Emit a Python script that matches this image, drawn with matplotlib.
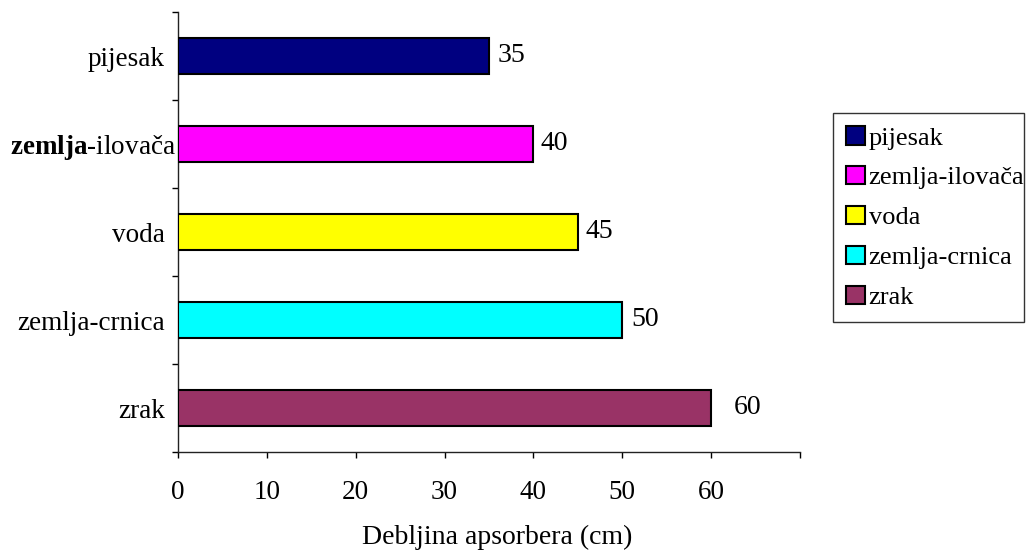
import matplotlib
matplotlib.use("Agg")
import matplotlib.pyplot as plt
import matplotlib.transforms as mtransforms
import numpy as np

# ---- data ----
categories = ["pijesak", "zemlja-ilovača", "voda", "zemlja-crnica", "zrak"]
tick_labels = ["pijesak", r"$\mathbf{zemlja}$-ilovača", "voda", "zemlja-crnica", "zrak"]
values = [35, 40, 45, 50, 60]
colors = ["#000080", "#FF00FF", "#FFFF00", "#00FFFF", "#993366"]
x_ticks = [0, 10, 20, 30, 40, 50, 60, 70]
x_tick_labels = ["0", "10", "20", "30", "40", "50", "60", ""]
x_label = "Debljina apsorbera (cm)"

# label offsets in pixels (style)
label_offsets = [9, 7, 8, 9, 23]

plt.rcParams["font.family"] = ["Liberation Serif", "DejaVu Serif"]
plt.rcParams["mathtext.fontset"] = "custom"
plt.rcParams["mathtext.rm"] = "Liberation Serif"
plt.rcParams["mathtext.bf"] = "Liberation Serif:bold"
plt.rcParams["mathtext.it"] = "Liberation Serif:italic"

fig = plt.figure(figsize=(10.31, 5.5), dpi=100)
ax = fig.add_axes([178/1031, 1-452/550, (800-178)/1031, (452-12)/550])

n = len(categories)
ypos = np.arange(n)[::-1]  # first category at top
bars = []
for i in range(n):
    b = ax.barh(ypos[i], values[i], height=0.4, color=colors[i],
                edgecolor="black", linewidth=1.5, label=categories[i], zorder=3)
    bars.append(b)
    ax.annotate(str(values[i]), xy=(values[i], ypos[i]), xytext=(label_offsets[i]*0.72, 0),
                textcoords="offset points", ha="left", va="center", fontsize=20)

ax.set_xlim(0, 70)
ax.set_ylim(-0.5, n - 0.5)
ax.set_xticks(x_ticks)
ax.set_xticklabels(x_tick_labels, fontsize=19.5)
ax.set_yticks(ypos)
ax.set_yticklabels(tick_labels, fontsize=19.5)
ax.set_yticks(np.arange(-0.5, n, 1.0), minor=True)
ax.tick_params(axis="y", which="major", length=0, pad=9.5)
ax.tick_params(axis="y", which="minor", length=4.5, width=1, direction="out")
ax.tick_params(axis="x", which="major", length=4.5, width=1, direction="out", pad=16)
ax.spines["top"].set_visible(False)
ax.spines["right"].set_visible(False)
for s in ("left", "bottom"):
    ax.spines[s].set_linewidth(1)
    ax.spines[s].set_color("#222222")

# the bold label sits a little closer to the axis in the reference
for lbl in ax.get_yticklabels():
    if "mathbf" in lbl.get_text():
        lbl.set_transform(lbl.get_transform() +
                          mtransforms.ScaledTranslation(11/100, 0, fig.dpi_scale_trans))

ax.set_xlabel(x_label, fontsize=20)
ax.xaxis.label.set_va("baseline")
ax.xaxis.set_label_coords((497-178)/622, (452-544)/440)

leg = fig.legend(handles=[b for b in bars], labels=categories,
                 loc="upper left",
                 bbox_to_anchor=(833/1031, 1-322/550, 191/1031, 209/550),
                 bbox_transform=fig.transFigure, borderaxespad=0, mode="expand",
                 fancybox=False, edgecolor="black", fontsize=19,
                 handlelength=0.7, handleheight=0.7, handletextpad=0.15,
                 labelspacing=0.62, borderpad=0.5, frameon=True)
leg.get_frame().set_linewidth(1)

fig.savefig("out.png", dpi=100)
